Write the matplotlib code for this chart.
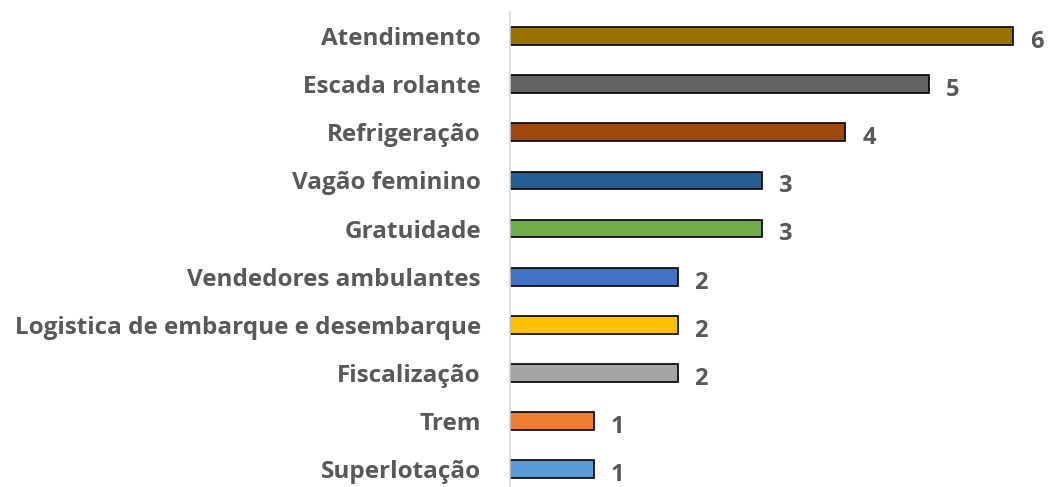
import matplotlib.pyplot as plt

categories = ["Superlotação", "Trem", "Fiscalização",
              "Logistica de embarque e desembarque", "Vendedores ambulantes",
              "Gratuidade", "Vagão feminino", "Refrigeração",
              "Escada rolante", "Atendimento"]
values = [1, 1, 2, 2, 2, 3, 3, 4, 5, 6]
colors = ["#5B9BD5", "#ED7D31", "#A5A5A5", "#FFC000", "#4472C4",
          "#70AD47", "#255E91", "#9E480E", "#636363", "#997300"]

plt.rcParams["font.family"] = ["Open Sans", "DejaVu Sans"]
text_color = "#595959"

fig = plt.figure(figsize=(10.48, 4.87), dpi=100)
ax = fig.add_axes([510 / 1048, 0.0, 524 / 1048, 1 - 12 / 487])

pos = range(len(categories))
ax.barh(pos, values, height=0.37, color=colors, edgecolor="black", linewidth=1.2)

# value labels just past the end of each bar
for y, v in zip(pos, values):
    ax.text(v + 0.2, y - 0.06, str(v), va="center_baseline", ha="left",
            fontsize=17, fontweight="bold", color=text_color)

ax.set_xlim(0, 6.25)
ax.set_ylim(-0.37, 9.5)
ax.set_yticks(list(pos))
ax.set_yticklabels(categories, fontsize=17.5, fontweight="bold", color=text_color)
ax.tick_params(axis="y", length=0, pad=21)
ax.set_xticks([])

for side in ["top", "right", "bottom"]:
    ax.spines[side].set_visible(False)
ax.spines["left"].set_color("#D9D9D9")
ax.spines["left"].set_linewidth(1.2)

fig.savefig("out.png", dpi=100)
